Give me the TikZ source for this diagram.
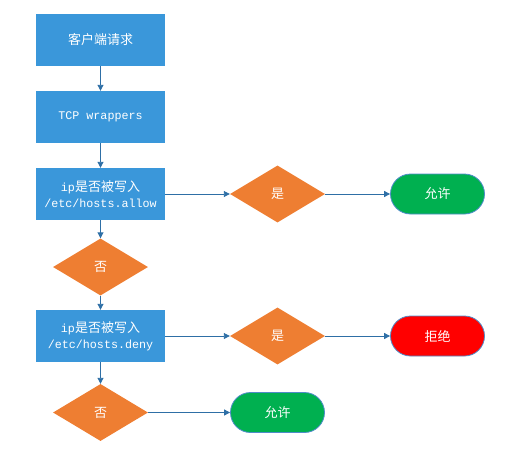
\documentclass[tikz,border=0pt]{standalone}
\usepackage{fontspec}
\setmainfont{Noto Sans CJK SC}
\setmonofont{Liberation Mono}
\usetikzlibrary{shapes.geometric,arrows.meta}
\definecolor{boxblue}{HTML}{3A97DA}
\definecolor{dorange}{HTML}{EE7E32}
\definecolor{okgreen}{HTML}{00B050}
\definecolor{nored}{HTML}{FF0000}
\definecolor{arrowc}{HTML}{2E6FA6}
\definecolor{edgeblue}{HTML}{4F8CC9}
\newcommand{\mono}[1]{{\fontsize{11.7}{16}\ttfamily #1}}
\tikzset{
  x=1pt, y=-1pt,
  every node/.style={text=white, font=\fontsize{13}{16}\selectfont, align=center},
  procbox/.style={rectangle, fill=boxblue, minimum width=129pt, minimum height=52pt, inner sep=0pt},
  decide/.style={diamond, fill=dorange, minimum width=95pt, minimum height=57pt, inner sep=0pt},
  term/.style={rectangle, rounded corners=20pt, draw=edgeblue, line width=0.8pt, minimum width=94pt, minimum height=40pt, inner sep=0pt},
  conn/.style={draw=arrowc, line width=0.9pt, -{Triangle[length=6pt,width=6pt]}},
}
\begin{document}
\begin{tikzpicture}
\useasboundingbox (0,0) rectangle (511,455);
\node[procbox] (b1) at (100.5,40) {客户端请求};
\node[procbox] (b2) at (100.5,117) {\mono{TCP wrappers}};
\node[procbox] (b3) at (100.5,194) {\mono{ip}是否被写入\\\mono{/etc/hosts.allow}};
\node[decide] (d1) at (277.5,194) {是};
\node[term, fill=okgreen] (g1) at (437.5,194) {允许};
\node[decide] (n1) at (100.5,267) {否};
\node[procbox] (b4) at (100.5,336) {\mono{ip}是否被写入\\\mono{/etc/hosts.deny}};
\node[decide] (d2) at (277.5,336) {是};
\node[term, fill=nored] (r1) at (437.5,336) {拒绝};
\node[decide] (n2) at (100.5,412.5) {否};
\node[term, fill=okgreen] (g2) at (277.5,412.5) {允许};
\draw[conn] (b1) -- (b2);
\draw[conn] (b2) -- (b3);
\draw[conn] (b3.east) -- (d1.west);
\draw[conn] (d1.east) -- (g1.west);
\draw[conn] (b3) -- (n1);
\draw[conn] (n1) -- (b4);
\draw[conn] (b4.east) -- (d2.west);
\draw[conn] (d2.east) -- (r1.west);
\draw[conn] (b4) -- (n2);
\draw[conn] (n2.east) -- (g2.west);
\end{tikzpicture}
\end{document}
